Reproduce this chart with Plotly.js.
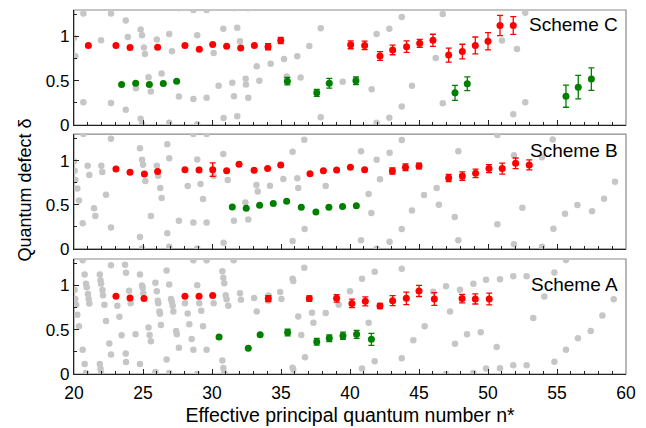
<!DOCTYPE html>
<html>
<head>
<meta charset="utf-8">
<script src="https://cdn.plot.ly/plotly-3.0.1.min.js"></script>
<style>html,body{margin:0;padding:0;background:#fff;}#chart{width:646px;height:428px;}</style>
</head>
<body>
<div id="chart"></div>
<script>
// ---------- Scheme C (top panel) ----------
var redC_x = [21.04, 23.04, 24.06, 26.06, 28.04, 29.08, 30.05, 31.06, 32.08, 33.07, 34.06, 34.98, 40.05, 41.06, 42.17, 43.09, 44.10, 45.05, 46.01, 47.15, 48.14, 49.08, 50.00, 50.87, 51.83];
var redC_y = [0.898, 0.898, 0.875, 0.880, 0.900, 0.856, 0.909, 0.890, 0.870, 0.898, 0.886, 0.955, 0.907, 0.900, 0.780, 0.849, 0.886, 0.924, 0.958, 0.790, 0.830, 0.900, 0.947, 1.125, 1.125];
var redC_e = [0, 0, 0, 0, 0, 0, 0, 0, 0, 0, 0.035, 0.034, 0.045, 0.048, 0.050, 0.055, 0.066, 0.045, 0.068, 0.078, 0.083, 0.095, 0.098, 0.115, 0.100];
var greenC_x = [23.45, 24.47, 25.46, 26.47, 27.44, 35.46, 37.59, 38.50, 40.43, 47.61, 48.50, 55.65, 56.54, 57.49];
var greenC_y = [0.458, 0.473, 0.458, 0.470, 0.496, 0.496, 0.364, 0.473, 0.500, 0.364, 0.466, 0.326, 0.428, 0.519];
var greenC_e = [0, 0, 0, 0, 0, 0.042, 0.040, 0.055, 0.043, 0.085, 0.078, 0.125, 0.133, 0.127];
var grayC_x = [20.0, 20.1, 20.68, 20.68, 21.96, 22.68, 22.68, 23.75, 23.9, 23.75, 24.83, 24.93, 25.07, 25.14, 24.49, 25.4, 25.57, 24.83, 24.93, 26.0, 26.35, 26.9, 27.1, 26.9, 27.6, 27.6, 28.65, 28.65, 28.93, 28.93, 29.61, 29.61, 30.12, 30.48, 30.82, 30.84, 31.47, 31.59, 31.59, 31.83, 31.83, 32.03, 32.44, 32.46, 32.63, 32.63, 33.24, 33.43, 34.25, 35.22, 35.41, 36.18, 36.42, 37.05, 37.88, 37.88, 39.47, 41.57, 41.93, 41.93, 42.85, 42.85, 43.75, 43.75, 44.49, 46.21, 46.72, 46.72, 51.01, 51.83, 52.1, 52.7, 52.7];
var grayC_y = [0.985, 0.776, 1.26, 0.258, 0.958, 1.26, 0.25, 1.18, 0.996, 0.174, 1.08, 1.015, 0.875, 0.803, 0.417, 0.54, 0.378, 0.072, 0.01, 0.966, 0.583, 1.03, 0.833, 0.026, 0.322, 1.32, 1.30, 0.295, 1.015, 0.01, 1.30, 0.307, 0.814, 0.443, 1.087, 0.08, 0.477, 0.326, 1.32, 1.10, 0.099, 0.947, 0.523, 0.458, 1.32, 0.307, 0.663, 0.50, 0.693, 0.746, 0.549, 0.776, 0.538, 0.894, 1.094, 0.087, 0.489, 0.405, 1.03, 0.026, 1.087, 0.083, 1.22, 0.208, 0.443, 0.758, 1.254, 0.246, 0.955, 0.121, 0.86, 1.27, 0.258];

// ---------- Scheme B (middle panel) ----------
var redB_x = [23.04, 24.06, 25.10, 26.06, 28.04, 29.06, 30.05, 31.06, 31.96, 33.05, 34.03, 34.98, 37.10, 38.07, 39.03, 40.03, 41.06, 43.07, 44.02, 45.00, 47.15, 48.14, 49.10, 50.07, 51.03, 52.00, 52.99];
var redB_y = [0.905, 0.867, 0.848, 0.875, 0.897, 0.894, 0.897, 0.886, 0.958, 0.890, 0.909, 0.951, 0.852, 0.886, 0.894, 0.924, 0.897, 0.882, 0.924, 0.939, 0.802, 0.825, 0.855, 0.909, 0.909, 0.969, 0.951];
var redB_e = [0, 0, 0, 0, 0, 0, 0.076, 0, 0, 0, 0, 0, 0, 0, 0, 0, 0, 0.034, 0.038, 0.032, 0.040, 0.048, 0.049, 0.045, 0.062, 0.060, 0.057];
var greenB_x = [31.47, 32.48, 33.45, 34.44, 35.41, 36.47, 37.53, 38.47, 39.46, 40.46];
var greenB_y = [0.475, 0.460, 0.494, 0.513, 0.540, 0.471, 0.418, 0.471, 0.478, 0.487];
var grayB_x = [20.0, 20.04, 20.1, 20.24, 20.36, 20.68, 20.63, 20.99, 21.11, 21.45, 21.55, 21.98, 22.05, 22.32, 22.68, 22.68, 24.78, 24.93, 25.0, 25.17, 24.78, 24.93, 25.57, 26.0, 26.1, 26.25, 26.35, 26.76, 26.9, 26.76, 26.9, 27.6, 28.24, 28.65, 28.65, 28.93, 29.17, 29.35, 28.93, 29.61, 29.61, 30.12, 30.82, 30.84, 31.14, 31.59, 32.42, 32.63, 33.22, 33.31, 34.2, 35.17, 35.84, 35.84, 36.18, 36.25, 36.69, 36.71, 38.24, 40.8, 40.8, 41.35, 41.55, 41.93, 41.93, 42.17, 42.87, 42.87, 43.75, 43.75, 44.49, 45.36, 46.28, 46.44, 47.59, 47.85, 47.85, 50.68, 50.68, 51.88, 51.88, 52.49, 53.91, 53.91, 54.69, 54.74, 55.58, 56.48, 57.54, 58.41, 59.2];
var grayB_y = [0.99, 0.886, 0.78, 0.684, 0.547, 1.30, 0.29, 0.94, 0.837, 0.46, 0.373, 0.94, 0.871, 0.612, 1.247, 0.24, 1.14, 1.008, 0.954, 0.768, 0.133, 0.004, 0.373, 0.94, 0.829, 0.689, 0.575, 1.186, 1.026, 0.175, 0.023, 0.319, 0.711, 1.30, 0.297, 1.012, 0.734, 0.563, 0.004, 1.30, 0.297, 0.829, 1.076, 0.068, 0.78, 0.319, 0.525, 0.331, 0.723, 0.65, 0.716, 0.791, 1.099, 0.088, 0.799, 0.689, 1.236, 0.225, 0.711, 1.106, 0.096, 0.62, 0.407, 1.008, 0.0, 0.787, 1.088, 0.08, 1.232, 0.225, 0.433, 0.609, 0.689, 0.498, 0.361, 1.106, 0.096, 1.289, 0.278, 1.06, 0.05, 0.464, 1.038, 0.023, 1.24, 0.228, 0.396, 0.495, 0.426, 0.567, 0.76];

// ---------- Scheme A (bottom panel) ----------
var redA_x = [23.04, 24.06, 25.07, 28.04, 29.06, 30.05, 34.08, 37.05, 39.03, 40.14, 41.11, 42.17, 43.09, 44.08, 45.00, 46.11, 48.12, 49.08, 50.09];
var redA_y = [0.878, 0.860, 0.852, 0.878, 0.878, 0.886, 0.852, 0.852, 0.855, 0.798, 0.821, 0.768, 0.829, 0.855, 0.939, 0.848, 0.852, 0.848, 0.848];
var redA_e = [0, 0, 0, 0, 0, 0, 0.034, 0.032, 0.042, 0.048, 0.051, 0.030, 0.057, 0.070, 0.063, 0.072, 0.047, 0.057, 0.066];
var greenA_x = [30.51, 32.63, 33.49, 35.48, 37.59, 38.50, 39.49, 40.48, 41.55];
var greenA_y = [0.418, 0.290, 0.445, 0.468, 0.365, 0.403, 0.433, 0.448, 0.392];
var greenA_e = [0, 0, 0, 0.038, 0.038, 0.038, 0.040, 0.045, 0.068];
var grayA_x = [20.04, 20.09, 20.16, 20.24, 20.36, 20.63, 20.63, 20.77, 20.87, 20.92, 21.01, 21.06, 21.11, 20.77, 20.87, 21.87, 21.92, 21.96, 22.06, 22.1, 22.2, 21.87, 21.92, 21.96, 22.32, 22.56, 22.68, 22.68, 23.14, 23.29, 23.45, 23.7, 23.77, 23.99, 24.1, 23.75, 23.77, 24.46, 24.78, 24.93, 24.98, 25.02, 24.78, 25.4, 25.48, 25.57, 25.9, 26.0, 26.07, 26.11, 26.19, 26.23, 26.3, 25.9, 26.71, 26.9, 27.03, 27.1, 27.15, 27.2, 26.71, 26.9, 27.4, 27.45, 27.6, 28.04, 28.24, 28.36, 28.53, 28.65, 28.65, 28.93, 29.08, 29.22, 29.35, 29.61, 29.61, 28.93, 30.12, 30.75, 30.82, 30.89, 30.99, 31.06, 31.18, 30.75, 30.82, 30.89, 31.57, 32.03, 32.1, 33.05, 33.24, 34.1, 34.08, 34.94, 35.03, 35.84, 35.89, 35.84, 35.89, 36.25, 36.47, 36.69, 36.74, 37.25, 37.35, 38.24, 39.18, 40.0, 40.87, 40.87, 41.35, 41.79, 41.79, 43.75, 43.75, 44.59, 45.41, 46.03, 46.96, 47.25, 46.96, 47.61, 47.97, 48.48, 48.94, 48.94, 49.47, 49.86, 49.86, 50.63, 50.87, 50.87, 51.83, 51.83, 52.8, 52.8, 53.28, 54.08, 54.81, 54.81, 55.65, 55.65, 56.52, 57.44, 58.29, 59.11];
var grayA_y = [0.951, 0.848, 0.784, 0.669, 0.54, 1.285, 0.274, 1.125, 1.019, 0.98, 0.905, 0.848, 0.798, 0.114, 0.01, 1.125, 1.06, 1.019, 0.949, 0.89, 0.783, 0.114, 0.06, 0.01, 0.6, 0.346, 1.228, 0.221, 0.772, 0.647, 0.438, 1.236, 1.145, 0.94, 0.8, 0.232, 0.137, 0.449, 1.125, 1.0, 0.974, 0.913, 0.114, 0.525, 0.441, 0.37, 1.03, 0.936, 0.829, 0.8, 0.707, 0.68, 0.555, 0.022, 1.171, 1.012, 0.848, 0.81, 0.772, 0.707, 0.164, 0.01, 0.487, 0.449, 0.297, 0.8, 0.684, 0.563, 0.396, 1.285, 0.274, 1.004, 0.8, 0.715, 0.54, 1.285, 0.274, 0.0, 0.8, 1.16, 1.087, 1.026, 0.89, 0.845, 0.77, 0.153, 0.068, 0.01, 1.285, 0.913, 0.84, 0.86, 0.707, 0.886, 0.829, 0.928, 0.848, 1.076, 1.05, 0.07, 0.047, 0.65, 0.441, 1.2, 0.19, 0.693, 0.578, 0.689, 0.784, 0.936, 1.076, 0.061, 0.578, 1.156, 0.145, 1.19, 0.179, 0.381, 0.54, 0.93, 0.992, 0.707, 0.0, 0.342, 0.951, 0.449, 1.019, 0.01, 0.472, 1.065, 0.061, 0.304, 1.072, 0.065, 1.106, 0.1, 1.106, 0.1, 0.632, 0.875, 1.148, 0.138, 1.289, 0.274, 0.403, 0.487, 0.661, 0.844];

var panelLabels = ["Scheme A", "Scheme B", "Scheme C"];
var yTickVals = [0, 0.5, 1];
var yTickText = ["0", "0.5", "1"];
var xTickVals = [20, 25, 30, 35, 40, 45, 50, 55, 60];

var RED = "#ff0000", GREEN = "#008000", GRAY = "#c6c6c6";
var FONT = "Liberation Sans, Arial, sans-serif";

function grayTrace(x, y, xa, ya) {
  return {x: x, y: y, xaxis: xa, yaxis: ya, type: "scatter", mode: "markers",
    marker: {color: GRAY, size: 6.5}, hoverinfo: "skip", showlegend: false};
}
function dataTrace(x, y, e, color, xa, ya) {
  var t = {x: x, y: y, xaxis: xa, yaxis: ya, type: "scatter", mode: "markers",
    marker: {color: color, size: 7}, showlegend: false};
  if (e) t.error_y = {type: "data", array: e, visible: true, color: color, thickness: 1.3, width: 3};
  return t;
}

var traces = [
  grayTrace(grayA_x, grayA_y, "x", "y"),
  dataTrace(redA_x, redA_y, redA_e, RED, "x", "y"),
  dataTrace(greenA_x, greenA_y, greenA_e, GREEN, "x", "y"),
  grayTrace(grayB_x, grayB_y, "x2", "y2"),
  dataTrace(redB_x, redB_y, redB_e, RED, "x2", "y2"),
  dataTrace(greenB_x, greenB_y, null, GREEN, "x2", "y2"),
  grayTrace(grayC_x, grayC_y, "x3", "y3"),
  dataTrace(redC_x, redC_y, redC_e, RED, "x3", "y3"),
  dataTrace(greenC_x, greenC_y, greenC_e, GREEN, "x3", "y3")
];

var domains = [[0, 0.316], [0.344, 0.659], [0.684, 1]];

function xAxis(anchor, labels) {
  return {range: [20, 60], anchor: anchor, showline: true, linecolor: "#222", linewidth: 1.2,
    mirror: false, ticks: "inside", ticklen: 5, tickcolor: "#222", tickvals: xTickVals,
    showticklabels: labels, showgrid: false, zeroline: false, ticklabelstandoff: 3,
    tickfont: {family: FONT, size: 17.5, color: "#000"},
    minor: {dtick: 1, ticks: "inside", ticklen: 3, tickcolor: "#222", showgrid: false}};
}
function yAxis(anchor, dom) {
  return {range: [0, 1.3], domain: dom, anchor: anchor, showline: true, linecolor: "#222", linewidth: 1.2,
    ticks: "inside", ticklen: 5, tickcolor: "#222", tickvals: yTickVals, ticktext: yTickText,
    showgrid: false, zeroline: false, tickfont: {family: FONT, size: 17, color: "#000"},
    minor: {tickvals: [0.25, 0.75, 1.25], ticks: "inside", ticklen: 3, tickcolor: "#222", showgrid: false}};
}

var layout = {
  width: 646, height: 428,
  margin: {l: 74, r: 20, t: 10, b: 54},
  paper_bgcolor: "#fff", plot_bgcolor: "#fff",
  showlegend: false,
  font: {family: FONT, color: "#000"},
  xaxis: Object.assign(xAxis("y", true), {title: {text: "Effective principal quantum number n*", font: {family: FONT, size: 19.5}, standoff: 6}}),
  xaxis2: Object.assign(xAxis("y2", false), {matches: "x"}),
  xaxis3: Object.assign(xAxis("y3", false), {matches: "x"}),
  yaxis: yAxis("x", domains[0]),
  yaxis2: yAxis("x2", domains[1]),
  yaxis3: yAxis("x3", domains[2]),
  shapes: domains.map(function (d) {
    return {type: "rect", xref: "paper", yref: "paper", x0: 0, x1: 1, y0: d[0], y1: d[1],
      line: {color: "#8a8a8a", width: 1.2}, layer: "below"};
  }),
  annotations: [
    {text: panelLabels[0], xref: "x", yref: "y", x: 59.6, y: 1.01, xanchor: "right", yanchor: "middle", showarrow: false, font: {family: FONT, size: 19}},
    {text: panelLabels[1], xref: "x2", yref: "y2", x: 59.6, y: 1.11, xanchor: "right", yanchor: "middle", showarrow: false, font: {family: FONT, size: 19}},
    {text: panelLabels[2], xref: "x3", yref: "y3", x: 59.6, y: 1.135, xanchor: "right", yanchor: "middle", showarrow: false, font: {family: FONT, size: 19}},
    {text: "Quantum defect δ", xref: "paper", yref: "paper", x: -0.088, y: 0.505, xanchor: "center", yanchor: "middle", textangle: -90, showarrow: false, font: {family: FONT, size: 18}}
  ]
};

Plotly.newPlot("chart", traces, layout, {displayModeBar: false, staticPlot: true});
</script>
</body>
</html>
